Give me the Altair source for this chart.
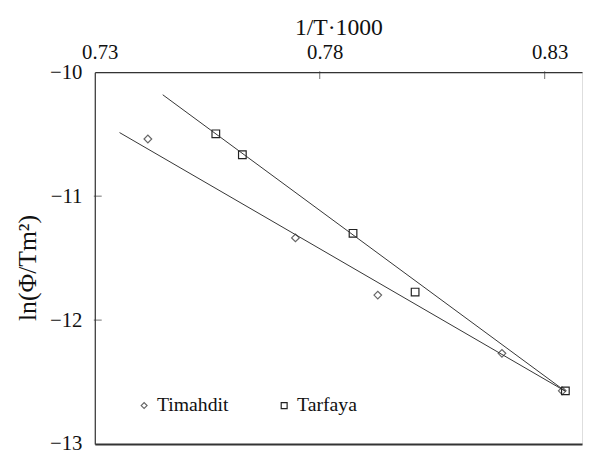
import altair as alt
import pandas as pd

# Measured data (1/T*1000, ln(Phi/Tm^2))
tim_x = [0.7418, 0.7746, 0.7929, 0.8205, 0.8339]
tim_y = [-10.539, -11.337, -11.798, -12.268, -12.571]
tar_x = [0.7569, 0.7628, 0.7874, 0.8012, 0.8346]
tar_y = [-10.497, -10.666, -11.300, -11.774, -12.571]

# Fitted line endpoints
tim_fit_x = [0.7355, 0.8346]
tim_fit_y = [-10.487, -12.574]
tar_fit_x = [0.7451, 0.8346]
tar_fit_y = [-10.182, -12.574]

series = ["Timahdit", "Tarfaya"]
x_ticks = [0.73, 0.78, 0.83]
y_ticks = [-13, -12, -11, -10]
x_inner_ticks = [0.78, 0.83]
y_inner_ticks = [-12, -11]

FONT = "Liberation Serif"

pts = pd.DataFrame(
    {"series": ["Timahdit"] * len(tim_x) + ["Tarfaya"] * len(tar_x),
     "x": tim_x + tar_x, "y": tim_y + tar_y}
)
fit = pd.DataFrame(
    {"series": ["Timahdit"] * 2 + ["Tarfaya"] * 2,
     "x": tim_fit_x + tar_fit_x, "y": tim_fit_y + tar_fit_y}
)

xscale = alt.Scale(domain=[0.73, 0.8383], nice=False, zero=False)
yscale = alt.Scale(domain=[-13, -10], nice=False, zero=False)

yaxis = alt.Axis(values=y_ticks, format="d", title="ln(Φ/Tm²)", grid=False,
                 ticks=False, labelPadding=13, labelFont=FONT, labelFontSize=21,
                 labelColor="#111", titleFont=FONT, titleFontSize=26,
                 titleFontWeight="normal", titleColor="#111", titleX=-68,
                 titleY=198, titleAngle=270, titleBaseline="middle",
                 titleAlign="center", domainColor="#333", domainWidth=1.2)

legend = alt.Legend(orient="none", legendX=40, legendY=328, direction="horizontal",
                    padding=0, symbolSize=36, symbolStrokeWidth=1.2,
                    labelFont=FONT, labelFontSize=20, labelColor="#111",
                    labelOffset=3, columnPadding=46)

points = alt.Chart(pts).mark_point(filled=False, size=60, strokeWidth=1.2, opacity=1).encode(
    x=alt.X("x:Q", scale=xscale,
            axis=alt.Axis(orient="top", values=x_ticks, format=".2f", title="1/T·1000",
                          grid=False, ticks=False, labelFlush=False, labelPadding=10,
                          labelOffset=5,
                          labelFont=FONT, labelFontSize=21, labelColor="#111",
                          titleFont=FONT, titleFontSize=24, titleFontWeight="normal",
                          titleColor="#111", titleY=-38, titleBaseline="alphabetic",
                          domainColor="#333", domainWidth=1.2)),
    y=alt.Y("y:Q", scale=yscale, axis=yaxis),
    shape=alt.Shape("series:N", scale=alt.Scale(domain=series, range=["diamond", "square"]),
                    title=None, legend=legend),
    stroke=alt.Stroke("series:N", scale=alt.Scale(domain=series, range=["#666666", "#222222"]),
                      title=None, legend=legend),
)

lines = alt.Chart(fit).mark_line(strokeWidth=1, color="#333333").encode(
    x=alt.X("x:Q", scale=xscale,
            axis=alt.Axis(orient="bottom", labels=False, ticks=False, title=None, grid=False,
                          domainColor="#333", domainWidth=2)),
    y=alt.Y("y:Q", scale=yscale, axis=yaxis),
    detail="series:N",
)

xt = alt.Chart(pd.DataFrame({"v": x_inner_ticks})).mark_tick(
    color="#333", thickness=1, size=8).encode(
    x=alt.X("v:Q", scale=xscale, axis=None), y=alt.value(3))

yt = alt.Chart(pd.DataFrame({"v": y_inner_ticks})).mark_tick(
    color="#333", thickness=1, size=8).encode(
    y=alt.Y("v:Q", scale=yscale, axis=yaxis), x=alt.value(3))

chart = alt.layer(points, lines, xt, yt).resolve_axis(x="independent").properties(
    width=494, height=377,
    autosize=alt.AutoSizeParams(type="none"),
    padding={"left": 88, "top": 62, "right": 2, "bottom": 7},
).configure_view(stroke=None).configure(background="white", font=FONT).configure_legend(
    labelFont=FONT, labelFontSize=20, labelColor="#111", title=None,
)

chart.save("out.html", embed_options={"renderer": "svg", "actions": False})
